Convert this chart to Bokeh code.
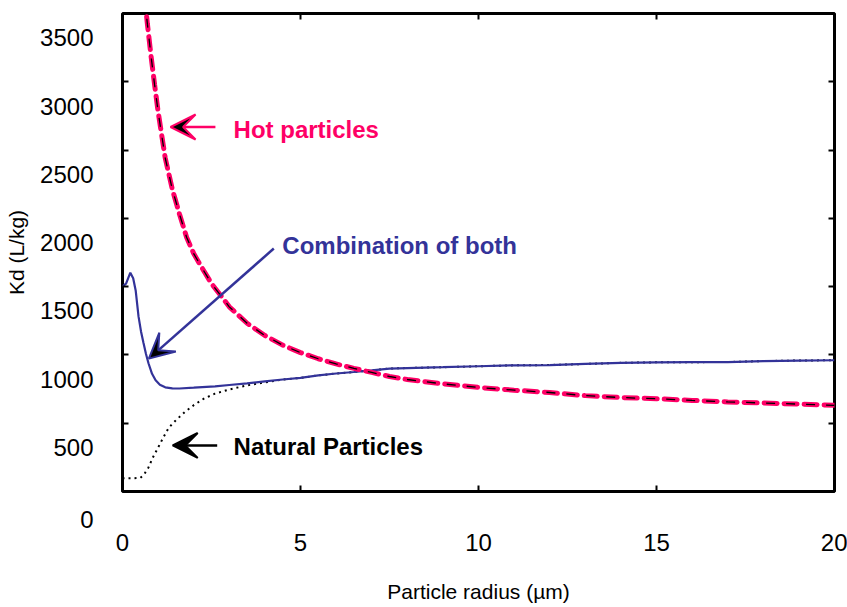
from bokeh.plotting import figure
from bokeh.models import Range1d, FixedTicker, LinearAxis, Label, Arrow, VeeHead
from bokeh.embed import file_html
from bokeh.resources import INLINE

# ---------------- data ----------------
radius_hot = [0.62, 0.7, 0.8, 0.9, 1.0, 1.2, 1.4, 1.6, 1.8, 2.0, 2.2, 2.5, 2.8, 3.0,
              3.5, 4.0, 4.5, 5.0, 5.5, 6.0, 6.5, 7.0, 7.5, 8.0, 8.5, 9.0, 10.0,
              11.0, 12.0, 13.0, 14.0, 15.0, 16.0, 17.0, 18.0, 19.0, 20.0]
kd_hot = [3800, 3600, 3370, 3160, 2960, 2620, 2390, 2210, 2040, 1920, 1830, 1700,
          1600, 1530, 1410, 1320, 1250, 1195, 1150, 1112, 1080, 1050, 1020, 998,
          982, 966, 940, 920, 903, 880, 866, 857, 845, 834, 826, 818, 809]

radius_comb = [0.0, 0.1, 0.22, 0.3, 0.37, 0.45, 0.52, 0.59, 0.66, 0.73, 0.83, 0.93,
               1.05, 1.2, 1.4, 1.6, 2.0, 2.6, 3.0, 3.5, 4.0, 4.5, 5.0, 5.5, 6.0,
               6.5, 7.0, 7.5, 8.0, 9.0, 10.0, 11.0, 12.0, 13.0, 14.0, 15.0, 16.0,
               17.0, 18.0, 19.0, 20.0]
kd_comb = [1680, 1700, 1780, 1740, 1650, 1460, 1350, 1265, 1185, 1117, 1040, 992,
           960, 941, 933, 932, 938, 948, 958, 970, 985, 998, 1010, 1028, 1042,
           1053, 1065, 1078, 1082, 1088, 1095, 1102, 1104, 1112, 1120, 1124, 1125,
           1126, 1133, 1137, 1139]

radius_nat = [0.0, 0.3, 0.5, 0.6, 0.73, 0.85, 1.0, 1.15, 1.3, 1.5, 1.75, 2.0, 2.3,
              2.6, 3.0, 3.5, 4.0, 4.5, 5.0, 5.5, 6.0, 6.5, 7.0, 7.5, 8.0, 9.0,
              10.0, 11.0, 12.0, 13.0, 14.0, 15.0, 16.0, 17.0, 18.0, 19.0, 20.0]
kd_nat = [275, 275, 278, 300, 354, 425, 500, 575, 645, 700, 760, 810, 860, 895,
          925, 955, 977, 998, 1010, 1028, 1042, 1053, 1065, 1078, 1082, 1088,
          1095, 1102, 1104, 1112, 1120, 1124, 1125, 1126, 1133, 1137, 1139]

x_ticks = [0, 5, 10, 15, 20]
y_tick_labels = [0, 500, 1000, 1500, 2000, 2500, 3000, 3500]

x_title = "Particle radius (µm)"
y_title = "Kd (L/kg)"
label_hot = "Hot particles"
label_comb = "Combination of both"
label_nat = "Natural Particles"

# ---------------- style ----------------
PINK = "#FF0066"
BLUE = "#333399"
FONT = "Liberation Sans"
Y_SHIFT = 178          # tick marks sit this far below the printed labels
Y_MIN, Y_MAX = Y_SHIFT, Y_SHIFT + 3500

p = figure(width=847, height=607, x_range=Range1d(0, 20), y_range=Range1d(Y_MIN, Y_MAX),
           output_backend="svg", toolbar_location=None,
           min_border_left=122, min_border_right=13, min_border_top=13, min_border_bottom=116)
p.grid.visible = False
p.outline_line_color = "black"
p.outline_line_width = 3
p.background_fill_color = "white"
p.border_fill_color = "white"

mark_ticks = [v + Y_SHIFT for v in y_tick_labels[1:-1]]

# left axis: labels at the printed values, tick marks (minor) shifted
ya = p.yaxis[0]
ya.ticker = FixedTicker(ticks=[Y_MIN] + y_tick_labels[1:], minor_ticks=mark_ticks)
ya.major_label_overrides = {Y_MIN: "\n\n" + str(y_tick_labels[0])}
ya.axis_line_color = None
ya.major_tick_line_color = None
ya.minor_tick_line_color = "black"
ya.minor_tick_line_width = 2
ya.minor_tick_in = 6
ya.minor_tick_out = 0
ya.major_label_standoff = 23
ya.major_label_text_font = FONT
ya.major_label_text_font_size = "24px"
ya.major_label_text_line_height = 1.05
ya.major_label_text_color = "black"
ya.axis_label = y_title
ya.axis_label_text_font = FONT
ya.axis_label_text_font_size = "21px"
ya.axis_label_text_font_style = "normal"
ya.axis_label_text_color = "black"
ya.axis_label_standoff = 9

# bottom axis
xa = p.xaxis[0]
xa.ticker = FixedTicker(ticks=x_ticks)
xa.axis_line_color = None
xa.major_tick_line_color = "black"
xa.major_tick_line_width = 2
xa.major_tick_in = 6
xa.major_tick_out = 0
xa.minor_tick_line_color = None
xa.major_label_standoff = 42
xa.major_label_text_font = FONT
xa.major_label_text_font_size = "24px"
xa.major_label_text_color = "black"
xa.axis_label = x_title
xa.axis_label_text_font = FONT
xa.axis_label_text_font_size = "21px"
xa.axis_label_text_font_style = "normal"
xa.axis_label_text_color = "black"
xa.axis_label_standoff = 26

# right axis (tick marks only, no labels drawn)
ra = LinearAxis(ticker=FixedTicker(ticks=y_tick_labels[1:], minor_ticks=mark_ticks),
                axis_line_color=None, major_tick_line_color=None,
                minor_tick_line_color="black", minor_tick_line_width=2,
                minor_tick_in=6, minor_tick_out=0,
                major_label_text_color=None, major_label_text_font_size="1px",
                major_label_standoff=0)
p.add_layout(ra, "right")

# top axis (tick marks only, no labels drawn)
ta = LinearAxis(ticker=FixedTicker(ticks=x_ticks[1:-1]),
                axis_line_color=None, major_tick_line_color="black", major_tick_line_width=2,
                major_tick_in=6, major_tick_out=0, minor_tick_line_color=None,
                major_label_text_color=None, major_label_text_font_size="1px",
                major_label_standoff=0)
p.add_layout(ta, "above")

# ---------------- curves ----------------
p.line(radius_nat, kd_nat, line_color="black", line_width=2, line_dash="2 4")
p.line(radius_comb, kd_comb, line_color=BLUE, line_width=2.2)
p.line(radius_hot, kd_hot, line_color=PINK, line_width=5, line_dash="13 7", line_cap="round")
p.line(radius_hot, kd_hot, line_color="black", line_width=1.3, line_dash="9 11",
       line_dash_offset=18)

# ---------------- annotations ----------------
def add_arrow(x0, y0, x1, y1, color):
    p.add_layout(Arrow(end=VeeHead(size=25, fill_color="black", line_color=color, line_width=2),
                       x_start=x0, y_start=y0, x_end=x1, y_end=y1,
                       line_color=color, line_width=2.5))

add_arrow(2.61, 2847, 1.35, 2847, PINK)
add_arrow(4.25, 1957, 0.74, 1151, BLUE)
add_arrow(2.66, 515, 1.41, 515, "black")

for txt, x, y, col in [(label_hot, 3.12, 2825, PINK),
                       (label_comb, 4.49, 1978, BLUE),
                       (label_nat, 3.12, 508, "black")]:
    p.add_layout(Label(x=x, y=y, text=txt, text_align="left", text_baseline="middle",
                       text_font=FONT, text_font_size="24px", text_font_style="bold",
                       text_color=col))

open("out.html", "w").write(file_html(p, INLINE))
